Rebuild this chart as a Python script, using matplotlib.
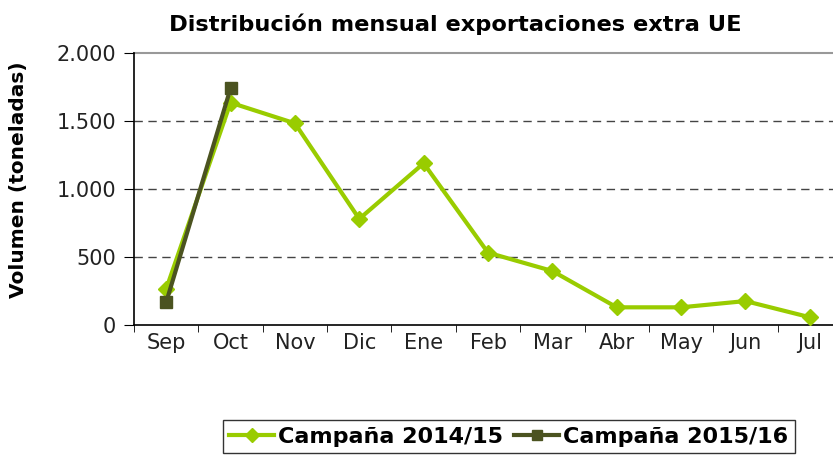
import matplotlib
matplotlib.use("Agg")
import matplotlib.pyplot as plt

months = ["Sep", "Oct", "Nov", "Dic", "Ene", "Feb", "Mar", "Abr", "May", "Jun", "Jul"]
c1415 = [265, 1635, 1483, 780, 1189, 532, 397, 130, 130, 176, 57]
c1516 = [167, 1740]
yticks = [0, 500, 1000, 1500, 2000]
ytick_labels = ["0", "500", "1.000", "1.500", "2.000"]

light = "#99CC00"
dark = "#4B5320"

fig = plt.figure(figsize=(8.33, 4.57), dpi=100)
ax = fig.add_axes([134/833, 1-325/457, 708/833, (325-53)/457])

x1 = list(range(len(c1415)))
x2 = list(range(len(c1516)))
ax.plot(x1, c1415, color=light, lw=3, marker="D", ms=8, mec=light, mfc=light,
        label="Campaña 2014/15", zorder=3)
ax.plot(x2, c1516, color=dark, lw=3, marker="s", ms=8, mec=dark, mfc=dark,
        label="Campaña 2015/16", zorder=4)

ax.set_xlim(-0.5, len(months) - 0.5)
ax.set_ylim(0, 2000)
ax.set_yticks(yticks)
ax.set_yticklabels(ytick_labels, fontsize=15, color="#222222")
ax.set_xticks(x1)
ax.set_xticklabels(months, fontsize=15, color="#222222")
ax.set_xticks([i - 0.5 for i in range(len(months) + 1)], minor=True)
ax.tick_params(axis="x", which="major", length=0, pad=6)
ax.tick_params(axis="x", which="minor", length=5, direction="out", color="black")
ax.tick_params(axis="y", length=7, direction="out", color="black", pad=6)

for v in yticks[1:-1]:
    ax.axhline(v, color="#444444", lw=1, ls=(0, (6, 4)), zorder=1)
ax.axhline(2000, color="#999999", lw=1.5, zorder=1, clip_on=False)

for s in ["top", "right"]:
    ax.spines[s].set_visible(False)
ax.spines["left"].set_color("black")
ax.spines["bottom"].set_color("black")
ax.spines["left"].set_linewidth(1.2)
ax.spines["bottom"].set_linewidth(1.2)

fig.text(19/833, 1-180/457, "Volumen (toneladas)", rotation=90,
         ha="center", va="center", fontsize=14.5, fontweight="bold")

fig.text(455/833, 1-24/457, "Distribución mensual exportaciones extra UE",
         ha="center", va="center", fontsize=16.2, fontweight="bold")

leg = fig.legend(loc="upper center", bbox_to_anchor=(509/833, 1-409/457), ncol=2,
                 frameon=True, fancybox=False, edgecolor="black",
                 prop={"size": 16, "weight": "bold"}, handlelength=2.0,
                 columnspacing=0.5, handletextpad=0.2, borderpad=0.3,
                 markerscale=0.9)
leg.get_frame().set_linewidth(1.0)

fig.savefig("out.png", dpi=100)
